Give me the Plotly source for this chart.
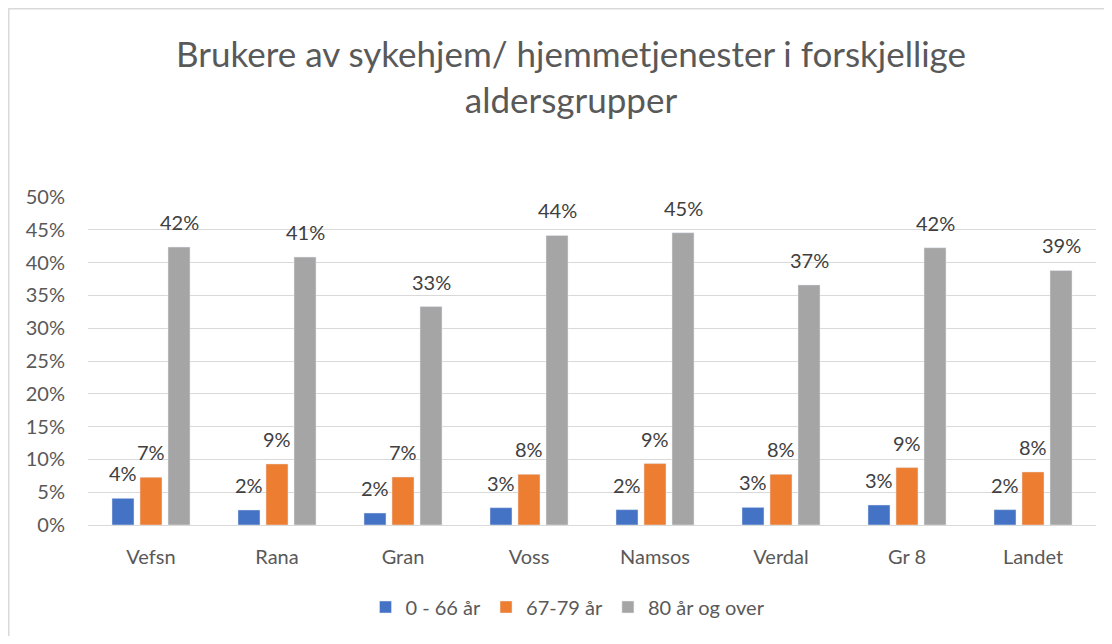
import plotly.graph_objects as go

categories = ["Vefsn", "Rana", "Gran", "Voss", "Namsos", "Verdal", "Gr 8", "Landet"]
series_names = ["0 - 66 år", "67-79 år", "80 år og over"]
age_0_66 = [0.0407, 0.0229, 0.0183, 0.0264, 0.0234, 0.0269, 0.0305, 0.0234]
age_67_79 = [0.0728, 0.0931, 0.0732, 0.0773, 0.0936, 0.0773, 0.0875, 0.0809]
age_80_plus = [0.4237, 0.4085, 0.3330, 0.4415, 0.4456, 0.3660, 0.4227, 0.3880]
colors = ["#4472C4", "#ED7D31", "#A5A5A5"]
y_ticks = [0, 0.05, 0.10, 0.15, 0.20, 0.25, 0.30, 0.35, 0.40, 0.45, 0.50]

FONT = "Lato"
# page body has an 8px margin, so the figure is 16px smaller than the window
W, H = 1096, 628
L, R, T, B = 80, 8, 189, 111
pw, ph = W - L - R, H - T - B
BAR_STEP = 28  # px between neighbouring bar centres inside a group

fig = go.Figure()
all_series = [age_0_66, age_67_79, age_80_plus]
for name, vals, col in zip(series_names, all_series, colors):
    fig.add_trace(go.Bar(
        x=categories, y=vals, name=name, marker_color=col,
    ))

# data labels above each bar
annotations = []
for si, vals in enumerate(all_series):
    for cat, v in zip(categories, vals):
        annotations.append(dict(
            x=cat, y=v, xref="x", yref="y",
            text=f"{v*100:.0f}%", showarrow=False,
            xanchor="center", yanchor="bottom",
            xshift=(si - 1) * BAR_STEP, yshift=11,
            font=dict(size=20, color="#404040", family=FONT),
        ))

fig.update_layout(
    width=W, height=H,
    margin=dict(l=L, r=R, t=T, b=B),
    paper_bgcolor="white", plot_bgcolor="white",
    barmode="group", bargap=0.333, bargroupgap=0.214,
    font=dict(family=FONT, color="#595959"),
    title=dict(
        text="Brukere av sykehjem/ hjemmetjenester i forskjellige<br>aldersgrupper",
        x=(571 - 8) / W, xanchor="center", xref="container",
        y=1 - 59 / H, yanchor="top", yref="container",
        font=dict(size=35, color="#595959", family=FONT),
    ),
    legend=dict(
        orientation="h", x=(560 - L) / pw, xanchor="center",
        y=-(599 - T - ph) / ph, yanchor="middle",
        font=dict(size=20, color="#595959", family=FONT),
        traceorder="normal",
    ),
    showlegend=True,
    annotations=annotations,
    shapes=[dict(
        type="rect", xref="paper", yref="paper",
        x0=(0.75 - L) / pw, x1=(W + 20 - L) / pw,
        y0=-(H + 20 - T - ph) / ph, y1=1 + (T - 0.75) / ph,
        line=dict(color="#D9D9D9", width=1.5), fillcolor="rgba(0,0,0,0)", layer="below",
    )],
)
fig.update_xaxes(
    showline=True, linecolor="#D9D9D9", linewidth=1,
    tickfont=dict(size=20, color="#595959", family=FONT),
    ticks="", ticklabelstandoff=14,
)
fig.update_yaxes(
    range=[0, 0.5], tickvals=y_ticks, tickformat=".0%",
    showgrid=True, gridcolor="#D9D9D9", gridwidth=1,
    zeroline=False, showline=False,
    tickfont=dict(size=20, color="#595959", family=FONT),
    ticks="", ticklabelstandoff=22,
)

fig.write_html("out.html")
